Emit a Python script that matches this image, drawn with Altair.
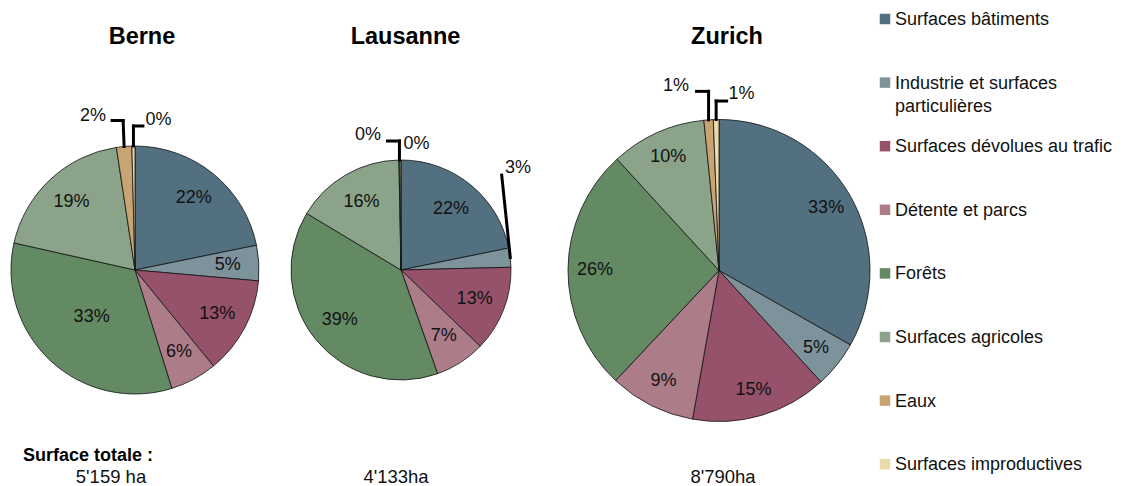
import altair as alt
import pandas as pd

# ---------------- data ----------------
cities = ["Berne", "Lausanne", "Zurich"]
categories = [
    "Surfaces bâtiments",
    "Industrie et surfaces particulières",
    "Surfaces dévolues au trafic",
    "Détente et parcs",
    "Forêts",
    "Surfaces agricoles",
    "Eaux",
    "Surfaces improductives",
]
legend_labels = [
    "Surfaces bâtiments",
    "Industrie et surfaces\nparticulières",
    "Surfaces dévolues au trafic",
    "Détente et parcs",
    "Forêts",
    "Surfaces agricoles",
    "Eaux",
    "Surfaces improductives",
]
berne_pct = [21.8, 4.6, 12.7, 6.1, 33.3, 19.1, 2.0, 0.4]
lausanne_pct = [21.8, 2.8, 12.6, 7.4, 39.0, 16.1, 0.15, 0.15]
zurich_pct = [33.2, 5.0, 14.6, 9.2, 26.2, 10.2, 1.0, 0.6]
totals = ["5'159 ha", "4'133ha", "8'790ha"]
total_caption = "Surface totale :"

colors = ["#52707F", "#7E929C", "#96526A", "#AD7C89",
          "#648A64", "#8AA389", "#C8A472", "#EAD9AA"]

# ---------------- layout (pixels inside the view) ----------------
FONT = "Liberation Sans"
W, H = 1114, 478
LAYOUT = {
    "Berne":    dict(cx=127, cy=262, r=124, lr=93, title_x=134, total_x=103),
    "Lausanne": dict(cx=393, cy=262, r=110, lr=79, title_x=397.5, total_x=388),
    "Zurich":   dict(cx=711, cy=262.5, r=151, lr=124, title_x=719, total_x=715),
}
# individual label-radius adjustments (best-fit placement in the original)
LABEL_RADIUS = {("Berne", "Forêts"): 64}
TITLE_Y = 29
TOTAL_Y = 469
CAPTION_X, CAPTION_Y = 15, 448
LEG_SQ_X, LEG_TXT_X, LEG_Y0, LEG_STEP = 877, 887, 11, 63.6
PCT_SIZE = 18
LEG_SIZE = 18

# callout leader lines: (vertical dx, dy), horizontal arm, label gap, label dy
CALLOUTS = {
    ("Berne", "Eaux"): (-1, -26, -11, -6, -4),
    ("Berne", "Surfaces improductives"): (0, -20, 9.5, 2.5, -6),
    ("Lausanne", "Industrie et surfaces particulières"): (-8.6, -82.5, 0, 3.3, -6.7),
    ("Lausanne", "Eaux"): (0, -19, -12, -6.5, -6),
    ("Lausanne", "Surfaces improductives"): (0, 0, 0, 3, -16),
    ("Zurich", "Eaux"): (0, -28.5, -12, -7.5, -5.5),
    ("Zurich", "Surfaces improductives"): (0, -18.5, 10.5, 1.8, -7.4),
}

# ---------------- tables ----------------
rows = []
for city, vals in zip(cities, [berne_pct, lausanne_pct, zurich_pct]):
    lay = LAYOUT[city]
    for i, (cat, v) in enumerate(zip(categories, vals)):
        c = CALLOUTS.get((city, cat))
        rows.append(dict(
            city=city, category=cat, order=i, value=v,
            cx=lay["cx"], cy=lay["cy"], r=lay["r"],
            lr=LABEL_RADIUS.get((city, cat), lay["lr"]),
            has_callout=1 if c else 0,
            c_dx=c[0] if c else 0, c_dy=c[1] if c else 0,
            c_arm=c[2] if c else 0, c_gap=c[3] if c else 0, c_ldy=c[4] if c else 0,
        ))
pie_df = pd.DataFrame(rows)

title_df = pd.DataFrame(dict(
    city=cities,
    x=[LAYOUT[c]["title_x"] for c in cities],
    y=[TITLE_Y] * len(cities),
))
total_df = pd.DataFrame(dict(
    label=totals,
    x=[LAYOUT[c]["total_x"] for c in cities],
    y=[TOTAL_Y] * len(cities),
))
caption_df = pd.DataFrame(dict(label=[total_caption], x=[CAPTION_X], y=[CAPTION_Y]))
legend_df = pd.DataFrame(dict(category=categories, label=legend_labels,
                              idx=list(range(len(categories)))))

color_scale = alt.Scale(domain=categories, range=colors)

# ---------------- pies ----------------
base = (
    alt.Chart(pie_df)
    .transform_joinaggregate(total="sum(value)", groupby=["city"])
    .transform_window(cum="sum(value)", groupby=["city"],
                      sort=[alt.SortField("order")], frame=[None, 0])
    .transform_calculate(
        t0="2*PI*(datum.cum - datum.value)/datum.total",
        t1="2*PI*datum.cum/datum.total",
    )
    .transform_calculate(mid="(datum.t0 + datum.t1)/2")
)

arcs = base.mark_arc(stroke="#111111", strokeWidth=0.8).encode(
    x=alt.X("cx:Q", scale=None),
    y=alt.Y("cy:Q", scale=None),
    theta=alt.Theta("t0:Q", scale=None, stack=False),
    theta2=alt.Theta2("t1:Q"),
    radius=alt.Radius("r:Q", scale=None),
    color=alt.Color("category:N", scale=color_scale, legend=None),
)

inside = (
    base.transform_filter("datum.has_callout == 0")
    .transform_calculate(
        lx="datum.cx + datum.lr*sin(datum.mid)",
        ly="datum.cy - datum.lr*cos(datum.mid)",
        label="format(datum.value, '.0f') + '%'",
    )
    .mark_text(font=FONT, fontSize=PCT_SIZE, color="#111111", baseline="middle", align="center")
    .encode(x=alt.X("lx:Q", scale=None), y=alt.Y("ly:Q", scale=None), text="label:N")
)

cbase = (
    base.transform_filter("datum.has_callout == 1")
    .transform_calculate(
        px0="datum.cx + datum.r*sin(datum.mid)",
        py0="datum.cy - datum.r*cos(datum.mid)",
        label="format(datum.value, '.0f') + '%'",
    )
    .transform_calculate(px1="datum.px0 + datum.c_dx", py1="datum.py0 + datum.c_dy")
    .transform_calculate(
        px2="datum.px1 + datum.c_arm",
        labx="datum.px1 + datum.c_arm + datum.c_gap",
        laby="datum.py1 + datum.c_ldy",
    )
)
seg1 = cbase.transform_filter("datum.c_dy != 0").mark_rule(
    color="#000000", strokeWidth=3, strokeCap="square"
).encode(
    x=alt.X("px0:Q", scale=None), y=alt.Y("py0:Q", scale=None),
    x2=alt.X2("px1:Q"), y2=alt.Y2("py1:Q"),
)
seg2 = cbase.transform_filter("datum.c_arm != 0").mark_rule(
    color="#000000", strokeWidth=3, strokeCap="square"
).encode(
    x=alt.X("px1:Q", scale=None), y=alt.Y("py1:Q", scale=None),
    x2=alt.X2("px2:Q"), y2=alt.Y2("py1:Q"),
)
out_left = cbase.transform_filter("datum.c_gap < 0").mark_text(
    font=FONT, fontSize=PCT_SIZE, color="#111111", align="right", baseline="middle"
).encode(x=alt.X("labx:Q", scale=None), y=alt.Y("laby:Q", scale=None), text="label:N")
out_right = cbase.transform_filter("datum.c_gap >= 0").mark_text(
    font=FONT, fontSize=PCT_SIZE, color="#111111", align="left", baseline="middle"
).encode(x=alt.X("labx:Q", scale=None), y=alt.Y("laby:Q", scale=None), text="label:N")

# ---------------- texts ----------------
titles = alt.Chart(title_df).mark_text(
    font=FONT, fontSize=23.5, fontWeight="bold", color="#000000", baseline="middle", align="center"
).encode(x=alt.X("x:Q", scale=None), y=alt.Y("y:Q", scale=None), text="city:N")

totals_txt = alt.Chart(total_df).mark_text(
    font=FONT, fontSize=18.5, color="#111111", baseline="middle", align="center"
).encode(x=alt.X("x:Q", scale=None), y=alt.Y("y:Q", scale=None), text="label:N")

caption = alt.Chart(caption_df).mark_text(
    font=FONT, fontSize=18, fontWeight="bold", color="#000000", baseline="middle", align="left"
).encode(x=alt.X("x:Q", scale=None), y=alt.Y("y:Q", scale=None), text="label:N")

# ---------------- legend ----------------
leg = alt.Chart(legend_df).transform_calculate(
    ly=f"{LEG_Y0} + datum.idx*{LEG_STEP}",
    sx=f"{LEG_SQ_X}", tx=f"{LEG_TXT_X}",
)
leg_sq = leg.mark_square(size=110, opacity=1, filled=True).encode(
    x=alt.X("sx:Q", scale=None), y=alt.Y("ly:Q", scale=None),
    color=alt.Color("category:N", scale=color_scale, legend=None),
)
leg_txt = leg.mark_text(
    font=FONT, fontSize=LEG_SIZE, color="#111111", align="left", baseline="alphabetic",
    dy=6, lineBreak="\n", lineHeight=23,
).encode(x=alt.X("tx:Q", scale=None), y=alt.Y("ly:Q", scale=None), text="label:N")

chart = alt.layer(
    arcs, inside, seg1, seg2, out_left, out_right,
    titles, totals_txt, caption, leg_sq, leg_txt,
).properties(
    width=W, height=H,
    autosize=alt.AutoSizeParams(type="none"),
    padding=0,
).configure_view(stroke=None)

chart.save("out.html", embed_options={"renderer": "svg", "actions": False})
